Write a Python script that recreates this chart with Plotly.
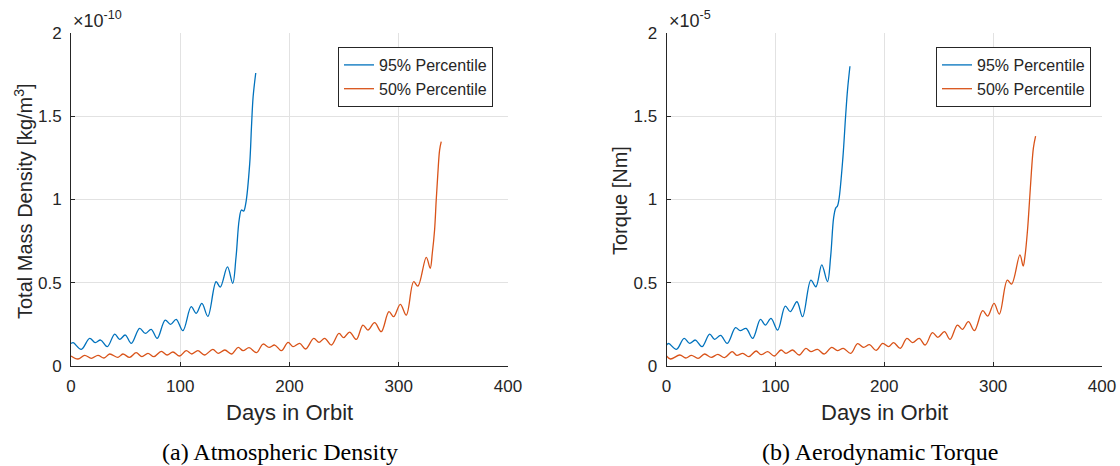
import plotly.graph_objects as go

# ---- Atmospheric density (units of 1e-10 kg/m^3) ----
density_days_95 = [0, 2, 9.4, 17.1, 22.2, 27.1, 33.2, 40.0, 44.5, 49.7, 55.2, 62.8, 68.0, 73.4,
                   78.9, 86.2, 91.1, 96.3, 102.4, 110.0, 114.6, 119.8, 125.3, 132.8, 136.6, 143.2,
                   148.0, 151.0, 153.9, 156.0, 158.0, 160.0, 163.6, 165.2, 166.7, 169.1]
density_95 = [0.135, 0.140, 0.100, 0.166, 0.140, 0.156, 0.116, 0.192, 0.160, 0.186, 0.136, 0.226,
              0.196, 0.220, 0.166, 0.276, 0.250, 0.280, 0.212, 0.356, 0.316, 0.376, 0.298, 0.506,
              0.474, 0.595, 0.497, 0.650, 0.877, 0.937, 0.930, 0.977, 1.217, 1.437, 1.617, 1.760]

density_days_50 = [0, 6.4, 12.5, 18.6, 24.7, 30.2, 35.4, 43.0, 47.5, 53.6, 59.7, 64.9, 70.4, 75.9,
                   82.6, 88.0, 93.3, 99.4, 105.4, 110.6, 116.1, 122.2, 129.8, 134.7, 140.8, 146.9,
                   153.0, 157.5, 163.0, 169.8, 175.8, 181.3, 186.5, 192.6, 198.7, 203.2, 209.4,
                   214.8, 222.2, 227.0, 232.2, 238.3, 245.3, 249.6, 255.0, 261.2, 267.2, 271.8,
                   277.9, 284.0, 291.0, 295.3, 301.4, 306.9, 313.6, 317.5, 325.2, 328.8, 330.7,
                   332.8, 334.3, 335.8, 337.4, 338.9]
density_50 = [0.060, 0.042, 0.064, 0.046, 0.064, 0.048, 0.072, 0.052, 0.072, 0.052, 0.080, 0.056,
              0.076, 0.056, 0.088, 0.066, 0.084, 0.060, 0.092, 0.072, 0.092, 0.066, 0.100, 0.076,
              0.096, 0.072, 0.112, 0.092, 0.110, 0.080, 0.132, 0.112, 0.126, 0.092, 0.142, 0.116,
              0.136, 0.102, 0.166, 0.142, 0.166, 0.126, 0.196, 0.170, 0.204, 0.160, 0.246, 0.216,
              0.260, 0.206, 0.326, 0.296, 0.370, 0.306, 0.506, 0.480, 0.653, 0.587, 0.677, 0.817,
              0.997, 1.157, 1.297, 1.347]

# ---- Aerodynamic torque (units of 1e-5 Nm) ----
torque_days_95 = [0, 2, 9.1, 16.2, 21.3, 26.5, 32.6, 39.6, 44.2, 49.7, 55.8, 63.4, 67.7, 73.1,
                  79.2, 86.3, 90.8, 96.0, 102.1, 109.1, 113.7, 119.8, 125.0, 132.6, 137.2, 142.6,
                  147.8, 150.8, 153.5, 155.5, 157.0, 158.4, 162.0, 164.5, 166.3, 168.5]
torque_95 = [0.126, 0.135, 0.100, 0.166, 0.136, 0.156, 0.116, 0.192, 0.160, 0.184, 0.136, 0.230,
             0.212, 0.226, 0.166, 0.280, 0.246, 0.286, 0.216, 0.360, 0.326, 0.386, 0.296, 0.516,
             0.476, 0.607, 0.507, 0.660, 0.890, 0.950, 0.960, 1.000, 1.250, 1.500, 1.660, 1.800]

torque_days_50 = [0, 3.7, 12.2, 17.7, 22.9, 29.0, 35.0, 41.1, 47.2, 53.3, 60.3, 64.6, 70.1, 75.6,
                  82.3, 86.9, 93.0, 99.0, 105.2, 109.7, 115.8, 121.9, 128.0, 132.6, 138.7, 144.8,
                  151.8, 157.0, 162.4, 169.2, 175.5, 181.0, 186.5, 192.5, 198.6, 204.0, 208.6,
                  214.7, 220.8, 226.0, 232.1, 237.6, 244.3, 249.2, 255.3, 260.5, 267.2, 271.8,
                  277.3, 282.8, 290.4, 295.0, 300.8, 305.7, 313.0, 317.0, 324.6, 327.6, 329.2,
                  331.6, 333.5, 335.2, 337.0, 339.0]
torque_50 = [0.060, 0.042, 0.066, 0.048, 0.064, 0.046, 0.072, 0.052, 0.070, 0.050, 0.086, 0.064,
             0.076, 0.056, 0.090, 0.068, 0.086, 0.060, 0.096, 0.076, 0.096, 0.066, 0.106, 0.086,
             0.100, 0.072, 0.112, 0.092, 0.106, 0.076, 0.134, 0.112, 0.128, 0.094, 0.136, 0.116,
             0.140, 0.106, 0.166, 0.140, 0.166, 0.126, 0.200, 0.172, 0.206, 0.160, 0.246, 0.220,
             0.266, 0.212, 0.332, 0.300, 0.376, 0.312, 0.516, 0.492, 0.667, 0.600, 0.657, 0.817,
             1.000, 1.170, 1.310, 1.380]

x_ticks = [0, 100, 200, 300, 400]
y_ticks = [0, 0.5, 1, 1.5, 2]
y_tick_text = ["0", "0.5", "1", "1.5", "2"]
series_names = ["95% Percentile", "50% Percentile"]

BLUE = "#0072BD"
ORANGE = "#D95319"
SANS = "Liberation Sans, Arial, sans-serif"
SERIF = "Liberation Serif, Times New Roman, serif"
INK = "#262626"

W, H = 1120, 466


def px_x(v):
    return v / W


def px_y(v):
    return (H - v) / H


fig = go.Figure()


def add_line(xs, ys, color, name, xa, ya, legend):
    fig.add_trace(go.Scatter(
        x=xs, y=ys, mode="lines", name=name,
        line=dict(color=color, width=1.3, shape="spline", smoothing=1.0),
        xaxis=xa, yaxis=ya, legend=legend,
    ))


add_line(density_days_95, density_95, BLUE, series_names[0], "x", "y", "legend")
add_line(density_days_50, density_50, ORANGE, series_names[1], "x", "y", "legend")
add_line(torque_days_95, torque_95, BLUE, series_names[0], "x2", "y2", "legend2")
add_line(torque_days_50, torque_50, ORANGE, series_names[1], "x2", "y2", "legend2")

tick_font = dict(family=SANS, size=17, color=INK)
x_common = dict(range=[0, 400], tickvals=x_ticks, showgrid=True, gridcolor="#e2e2e2",
                gridwidth=1, showline=True, linecolor=INK, linewidth=1, ticks="inside",
                ticklen=4, tickcolor=INK, tickfont=tick_font, zeroline=False,
                ticklabelstandoff=5, automargin=False)
y_common = dict(range=[0, 2], tickvals=y_ticks, ticktext=y_tick_text, showgrid=True,
                gridcolor="#e2e2e2", gridwidth=1, showline=True, linecolor=INK, linewidth=1,
                ticks="inside", ticklen=4, tickcolor=INK, tickfont=tick_font, zeroline=False,
                ticklabelstandoff=5, automargin=False)

y_dom = [px_y(366), px_y(33)]
fig.update_layout(
    width=W, height=H,
    margin=dict(l=0, r=0, t=0, b=0, autoexpand=False),
    paper_bgcolor="white", plot_bgcolor="white",
    xaxis=dict(domain=[px_x(71), px_x(508)], anchor="y", **x_common),
    yaxis=dict(domain=y_dom, anchor="x", **y_common),
    xaxis2=dict(domain=[px_x(666.5), px_x(1102)], anchor="y2", **x_common),
    yaxis2=dict(domain=y_dom, anchor="x2", **y_common),
    showlegend=True,
)

legend_style = dict(
    xanchor="right", yanchor="top", y=px_y(47),
    bgcolor="white", bordercolor=INK, borderwidth=1,
    font=dict(family=SANS, size=16, color=INK),
    tracegroupgap=0, itemwidth=30,
)
fig.update_layout(
    legend=dict(x=px_x(493), **legend_style),
    legend2=dict(x=px_x(1091), **legend_style),
)

annotations = []


def text(x, y, s, size, family=SANS, angle=0, xanchor="center"):
    annotations.append(dict(
        x=px_x(x), y=px_y(y), xref="paper", yref="paper", text=s, showarrow=False,
        font=dict(family=family, size=size, color=INK if family == SANS else "black"),
        textangle=angle, xanchor=xanchor, yanchor="middle",
    ))


# left panel labels
text(71, 19, "×10<sup>-10</sup>", 18, xanchor="left")
text(24, 201, "Total Mass Density [kg/m<sup>3</sup>]", 20, angle=-90)
text(289, 412, "Days in Orbit", 22)
text(280, 452, "(a) Atmospheric Density", 24, family=SERIF)

# right panel labels
text(667, 19, "×10<sup>-5</sup>", 18, xanchor="left")
text(620, 201, "Torque [Nm]", 20, angle=-90)
text(884, 412, "Days in Orbit", 22)
text(880, 452, "(b) Aerodynamic Torque", 24, family=SERIF)

fig.update_layout(annotations=annotations)

fig.write_html("out.html")
